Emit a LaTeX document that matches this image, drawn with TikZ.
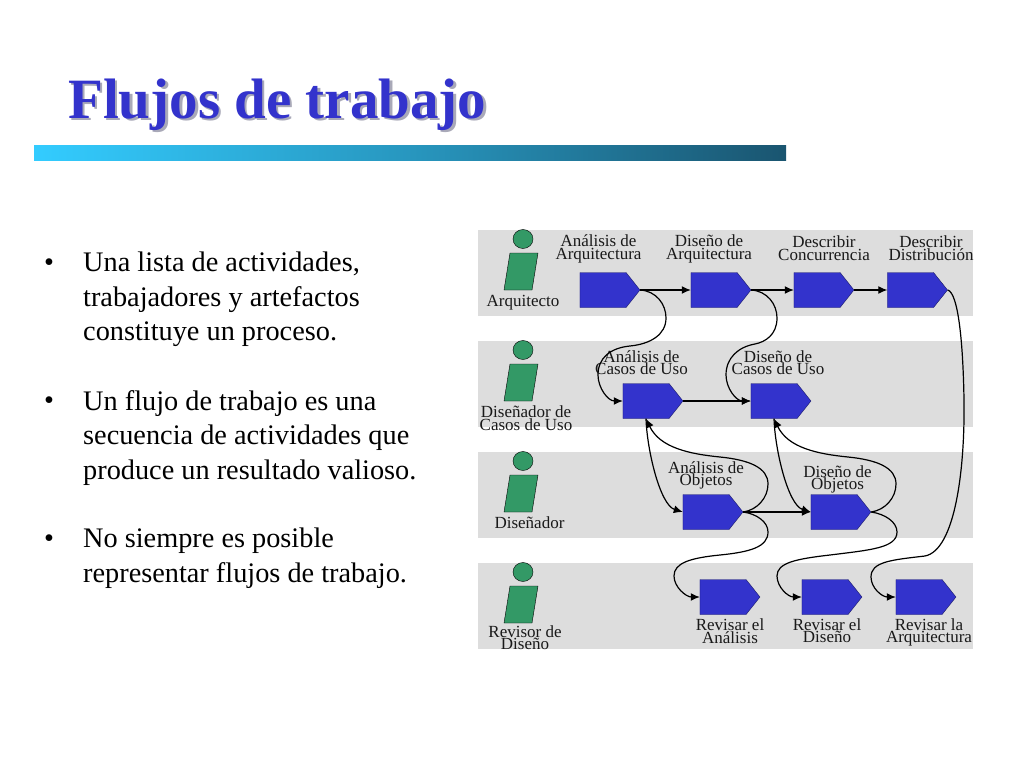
\documentclass[tikz,border=0pt]{standalone}
\usepackage{fontspec}
\setmainfont{Liberation Serif}
\usepackage{xcolor}
\usepackage{tikz}
\usetikzlibrary{arrows.meta,shapes.symbols,shapes.geometric}
\definecolor{FlowBlue}{HTML}{3333CC}
\definecolor{FlowEdge}{HTML}{1A1A66}
\definecolor{FlowBand}{HTML}{DDDDDD}
\definecolor{FlowGreen}{HTML}{339966}
\definecolor{FlowSky}{HTML}{33CCFF}
\definecolor{FlowTeal}{HTML}{1A5570}
\definecolor{FlowShade}{HTML}{A9A9B8}

\begin{document}
\begin{tikzpicture}[
  x=1pt, y=-1pt,
  band/.style={draw=none, fill=FlowBand, minimum width=495pt, minimum height=85.5pt,
               inner sep=0pt, anchor=north west},
  activity/.style={signal, signal to=east, signal from=nowhere, signal pointer angle=103,
                   draw=FlowEdge, fill=FlowBlue, inner sep=0pt,
                   minimum width=60pt, minimum height=35pt},
  head/.style={ellipse, draw=black, fill=FlowGreen, inner sep=0pt,
               minimum width=20pt, minimum height=19pt},
  tag/.style={font=\fontsize{17}{12.5}\selectfont, align=center, inner sep=0pt, text=black!90},
  para/.style={font=\fontsize{28.3}{34.5}\selectfont, align=left, inner sep=0pt, anchor=north west},
  dot/.style={font=\fontsize{28.3}{34.5}\selectfont, inner sep=0pt, anchor=north west},
  link/.style={-{Latex[length=9pt,width=8pt]}, line width=1.2pt, draw=black},
  title/.style={font=\fontsize{57}{57}\selectfont\bfseries, inner sep=0pt, anchor=base west}
]
\useasboundingbox (0,0) rectangle (1024,768);
\fill[white] (0,0) rectangle (1024,768);

\node[title, text=FlowShade] (shadow) at (70.5,120.5) {Flujos de trabajo};
\node[title, text=FlowBlue] (title) at (68,118) {Flujos de trabajo};
\shade[left color=FlowSky, right color=FlowTeal, middle color=FlowSky!55!FlowTeal]
  (34,145) rectangle (786,160);

\node[dot] (b1) at (44,259) {•};
\node[dot] (b2) at (44,397) {•};
\node[dot] (b3) at (44,535) {•};
\node[para] (t1) at (83,252) {Una lista de actividades,\\trabajadores y artefactos\\constituye un proceso.};
\node[para] (t2) at (83,390) {Un flujo de trabajo es una\\secuencia de actividades que\\produce un resultado valioso.};
\node[para] (t3) at (83,528) {No siempre es posible\\representar flujos de trabajo.};

\node[band] (r1) at (478,230) {};
\node[band] (r2) at (478,341) {};
\node[band] (r3) at (478,452) {};
\node[band] (r4) at (478,563) {};

\foreach \i/\yy in {1/0, 2/111, 3/222, 4/333} {
  \node[head] (h\i) at (523,239+\yy) {};
  \draw[draw=black, fill=FlowGreen] (510,253+\yy) -- (538,253+\yy) -- (532,290+\yy) -- (504,290+\yy) -- cycle;
}

\node[activity] (aa) at (603,290) {};
\node[activity] (da) at (714,290) {};
\node[activity] (cc) at (817,290) {};
\node[activity] (dd) at (910.5,290) {};
\node[activity] (ac) at (646,401) {};
\node[activity] (dc) at (774,401) {};
\node[activity] (ao) at (706,512) {};
\node[activity] (do) at (834,512) {};
\node[activity] (ra) at (723,597) {};
\node[activity] (rd) at (825,597) {};
\node[activity] (rq) at (919,597) {};

\node[tag] (laa) at (598.5,249) {Análisis de\\Arquitectura};
\node[tag] (lda) at (709,249) {Diseño de\\Arquitectura};
\node[tag] (lcc) at (824,248.2) {Describir\\Concurrencia};
\node[tag] (ldd) at (931,248) {Describir\\Distribución};
\node[tag] (lac) at (641.5,362.5) {Análisis de\\Casos de Uso};
\node[tag] (ldc) at (778,362.5) {Diseño de\\Casos de Uso};
\node[tag] (lao) at (706,475.5) {Análisis de\\Objetos};
\node[tag] (ldo) at (837.5,479.5) {Diseño de\\Objetos};
\node[tag] (lra) at (730,631) {Revisar el\\Análisis};
\node[tag] (lrd) at (827,630.5) {Revisar el\\Diseño};
\node[tag] (lrq) at (929,632.5) {Revisar la\\Arquitectura};
\node[tag] (w1) at (523,303) {Arquitecto};
\node[tag] (w2) at (526,418) {Diseñador de\\Casos de Uso};
\node[tag] (w3) at (529.5,523) {Diseñador};
\node[tag] (w4) at (525,637.5) {Revisor de\\Diseño};

\draw[link] (aa.east) -- (da.west);
\draw[link] (da.east) -- (cc.west);
\draw[link] (cc.east) -- (dd.west);
\draw[link] (ac.east) -- (dc.west);
\draw[link] (ao.east) -- (do.west);

\draw[link] (aa.east) .. controls (656,291) and (666,304) .. (666,318)
  .. controls (666,335) and (650,344) .. (630,346)
  .. controls (610,348) and (598,358) .. (598,375)
  .. controls (598,388) and (608,401) .. (ac.west);
\draw[link] (da.east) .. controls (767,291) and (777,304) .. (777,318)
  .. controls (777,335) and (765,342) .. (755,344)
  .. controls (738,347) and (726,358) .. (726,375)
  .. controls (726,388) and (736,401) .. (dc.west);

\draw[link] (ac.south) .. controls (647,450) and (660,505) .. (ao.west);
\draw[link] (dc.south) .. controls (775,450) and (788,505) .. (do.west);
\draw[link] (ao.east) .. controls (757,510) and (768,498) .. (768,484)
  .. controls (768,468) and (750,460) .. (720,457)
  .. controls (690,454) and (660,448) .. (ac.south);
\draw[link] (do.east) .. controls (885,510) and (896,498) .. (896,484)
  .. controls (896,468) and (878,460) .. (848,457)
  .. controls (818,454) and (788,448) .. (dc.south);

\draw[link] (ao.east) .. controls (757,514) and (768,522) .. (768,532)
  .. controls (768,547) and (750,552) .. (720,555)
  .. controls (690,558) and (674,563) .. (674,576)
  .. controls (674,587) and (686,597) .. (ra.west);
\draw[link] (do.east) .. controls (885,514) and (897,522) .. (897,532)
  .. controls (897,548) and (870,550) .. (830,555)
  .. controls (795,559) and (777,563) .. (777,576)
  .. controls (777,587) and (788,597) .. (rd.west);
\draw[link] (dd.east) .. controls (958,293) and (963,340) .. (964,400)
  .. controls (965,470) and (955,550) .. (925,556)
  .. controls (890,560) and (871,562) .. (871,577)
  .. controls (871,588) and (882,597) .. (rq.west);
\end{tikzpicture}
\end{document}
